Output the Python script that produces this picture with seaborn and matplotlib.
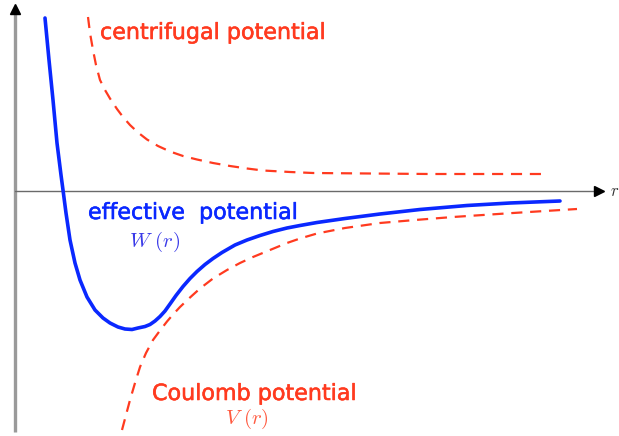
import matplotlib
matplotlib.use("Agg")
import matplotlib.pyplot as plt
import matplotlib.patheffects as pe
import seaborn as sns
import pandas as pd

# Radial coordinate r and potential energy values for the three curves
r_eff = [0.30, 0.34, 0.38, 0.42, 0.46, 0.48, 0.51, 0.55, 0.60, 0.65, 0.72, 0.80, 0.88,
         0.95, 1.03, 1.10, 1.17, 1.23, 1.30, 1.35, 1.40, 1.45, 1.50, 1.55, 1.61, 1.68,
         1.75, 1.82, 1.90, 1.98, 2.07, 2.20, 2.32, 2.45, 2.58, 2.72, 2.85, 3.02, 3.30,
         3.65, 4.05, 4.52, 4.95, 5.45]
w_eff = [1.73, 1.31, 0.91, 0.48, 0.16, 0.01, -0.22, -0.49, -0.72, -0.89, -1.06, -1.19, -1.27,
         -1.32, -1.36, -1.38, -1.385, -1.37, -1.355, -1.335, -1.30, -1.255, -1.20, -1.13, -1.045, -0.955,
         -0.875, -0.805, -0.735, -0.675, -0.615, -0.54, -0.49, -0.445, -0.405, -0.37, -0.345, -0.315, -0.275,
         -0.23, -0.185, -0.145, -0.12, -0.10]

r_cent = [0.73, 0.75, 0.78, 0.81, 0.85, 0.90, 0.95, 1.02, 1.08, 1.15, 1.23, 1.32, 1.43,
          1.55, 1.68, 1.82, 1.98, 2.15, 2.32, 2.48, 2.75, 2.98, 3.55, 4.15, 4.75, 5.32]
v_cent = [1.74, 1.58, 1.41, 1.26, 1.11, 1.01, 0.925, 0.82, 0.74, 0.66, 0.585, 0.515, 0.45,
          0.395, 0.35, 0.315, 0.28, 0.25, 0.225, 0.205, 0.19, 0.18, 0.175, 0.17, 0.17, 0.17]

r_coul = [1.07, 1.11, 1.15, 1.20, 1.25, 1.31, 1.38, 1.45, 1.52, 1.58, 1.65, 1.75, 1.85,
          1.98, 2.12, 2.25, 2.38, 2.55, 2.72, 2.85, 3.02, 3.30, 3.65, 4.00, 4.38, 4.68,
          4.98, 5.30, 5.62]
v_coul = [-2.39, -2.24, -2.09, -1.92, -1.76, -1.62, -1.49, -1.395, -1.305, -1.235, -1.16, -1.065, -0.975,
          -0.875, -0.79, -0.72, -0.66, -0.59, -0.52, -0.475, -0.425, -0.37, -0.32, -0.29, -0.26, -0.24,
          -0.22, -0.20, -0.18]

BLUE = "#0a28ff"
RED = "#ff3a1f"

sns.set_theme(style="white")
plt.rcParams["font.family"] = ["DejaVu Sans"]
plt.rcParams["mathtext.fontset"] = "cm"

fig = plt.figure(figsize=(6.19, 4.36), dpi=100)
ax = fig.add_axes([0, 0, 1, 1])

# coordinate axes
ax.plot([0, 0], [-2.41, 1.80], color="#9a9a9a", lw=2.4, solid_capstyle="butt", zorder=1)
ax.plot([0], [1.82], marker="^", color="black", markersize=7, zorder=2)
ax.plot([0, 5.84], [0, 0], color="#6a6a6a", lw=1.0, zorder=1)
ax.plot([5.84], [0], marker=">", color="black", markersize=7, zorder=2)
ax.text(5.95, 0.0, r"$r$", fontsize=12, color="#333333", ha="left", va="center")

df_eff = pd.DataFrame({"r": r_eff, "E": w_eff})
df_cent = pd.DataFrame({"r": r_cent, "E": v_cent})
df_coul = pd.DataFrame({"r": r_coul, "E": v_coul})

dash = (0, (5, 3.5))
sns.lineplot(data=df_cent, x="r", y="E", sort=False, estimator=None, ax=ax,
             color=RED, lw=1.6, linestyle=dash)
sns.lineplot(data=df_coul, x="r", y="E", sort=False, estimator=None, ax=ax,
             color=RED, lw=1.6, linestyle=dash)
sns.lineplot(data=df_eff, x="r", y="E", sort=False, estimator=None, ax=ax,
             color=BLUE, lw=2.6)

ax.set_xlim(-0.15, 6.04)
ax.set_ylim(-2.45, 1.91)
ax.axis("off")

# curve labels, slightly thickened
def label(x, y, s, color, size=16, ha="left"):
    t = ax.text(x, y, s, fontsize=size, color=color, ha=ha, va="center")
    t.set_path_effects([pe.withStroke(linewidth=0.4, foreground=color)])
    return t

label(0.85, 1.58, "centrifugal potential", RED)
label(0.73, -0.22, "effective  potential", BLUE)
ax.text(1.40, -0.51, r"$W\ (r)$", fontsize=15, color="#3a3ae8", ha="center", va="center")
label(1.37, -2.03, "Coulomb potential", RED)
ax.text(2.32, -2.28, r"$V\ (r)$", fontsize=15, color="#ff5a40", ha="center", va="center")

fig.savefig("out.png", dpi=100)
